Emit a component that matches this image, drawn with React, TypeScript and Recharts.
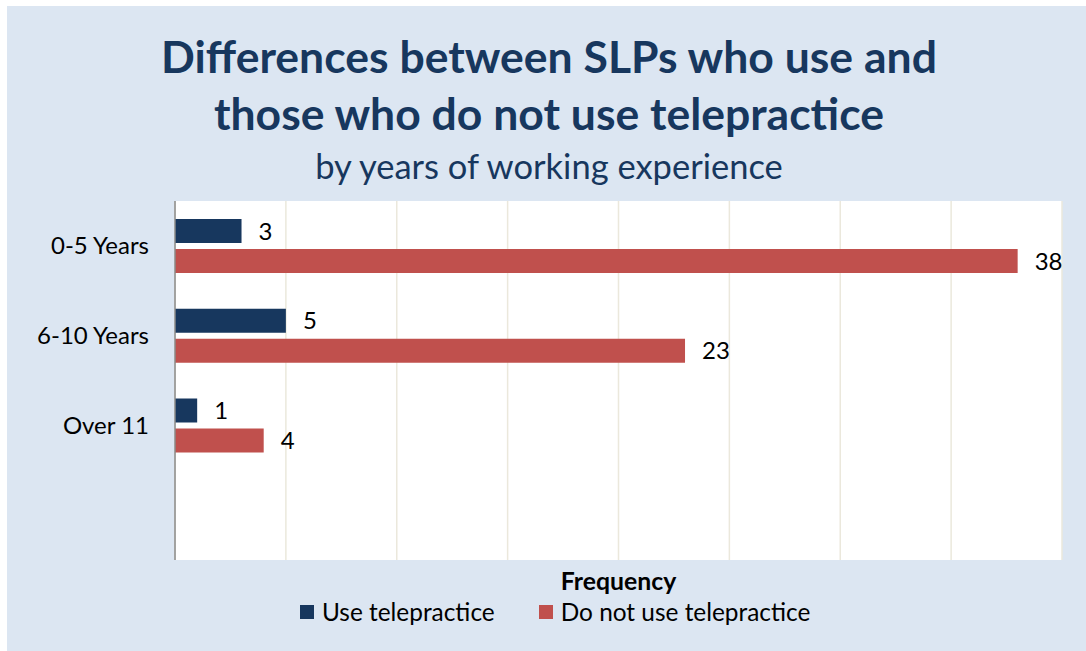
import React from 'react'
import { BarChart, Bar, XAxis, YAxis, CartesianGrid, LabelList, Legend } from 'recharts'

// Chart data
const categories = ['0-5 Years', '6-10 Years', 'Over 11', '']
const useTelepractice = [3, 5, 1, null]
const doNotUseTelepractice = [38, 23, 4, null]
const frequencyTicks = [0, 5, 10, 15, 20, 25, 30, 35, 40]

const seriesNames = ['Use telepractice', 'Do not use telepractice']
const seriesColors = ['#17375e', '#c0504d']

const data = categories.map((category, i) => ({
  category,
  use: useTelepractice[i],
  notUse: doNotUseTelepractice[i],
}))

const FONT = 'Lato, "Noto Sans", sans-serif'
const TITLE_COLOR = '#17375e'

function LegendContent() {
  return (
    <div style={{ display: 'flex', alignItems: 'center', fontFamily: FONT, fontSize: 24.4, color: '#000' }}>
      {seriesNames.map((name, i) => (
        <div key={name} style={{ display: 'flex', alignItems: 'center', marginRight: i === 0 ? 44 : 0 }}>
          <span style={{ display: 'inline-block', width: 14, height: 14, background: seriesColors[i], marginRight: 8 }} />
          <span>{name}</span>
        </div>
      ))}
    </div>
  )
}

const hideNull = (v: any) => (v == null ? '' : v)

export default function App() {
  return (
    <div style={{ position: 'absolute', left: 0, top: 0, width: 1086, height: 651, background: '#fff', overflow: 'hidden' }}>
      <div style={{ position: 'absolute', left: 7, top: 6, width: 1079, height: 645, background: '#dce6f2' }}>
        <BarChart
          width={1079}
          height={645}
          data={data}
          layout="vertical"
          margin={{ top: 195, right: 24, left: 0, bottom: 61 }}
          barSize={24}
          barGap={6}
        >
          <CartesianGrid horizontal={false} fill="#ffffff" stroke="#ebe8dc" strokeWidth={1.5} />
          <XAxis
            type="number"
            domain={[0, 40]}
            ticks={frequencyTicks}
            tick={() => <g />}
            tickLine={false}
            axisLine={false}
            height={30}
            label={{ value: 'Frequency', position: 'insideBottom', offset: 0, fill: '#000', fontSize: 24.8, fontWeight: 700, fontFamily: FONT }}
          />
          <YAxis
            type="category"
            dataKey="category"
            width={168}
            tickLine={false}
            tickSize={0}
            tickMargin={26}
            axisLine={{ stroke: '#8a8a8a', strokeWidth: 1.5 }}
            tick={{ fill: '#000', fontSize: 24, fontFamily: FONT }}
          />
          <Legend
            layout="horizontal"
            verticalAlign="middle"
            align="center"
            wrapperStyle={{ top: 591, left: 293, width: 600, height: 28 }}
            content={<LegendContent />}
          />
          <Bar dataKey="use" name={seriesNames[0]} fill={seriesColors[0]} isAnimationActive={false}>
            <LabelList dataKey="use" position="right" offset={17} formatter={hideNull} fill="#000" fontSize={24} fontFamily={FONT} />
          </Bar>
          <Bar dataKey="notUse" name={seriesNames[1]} fill={seriesColors[1]} isAnimationActive={false}>
            <LabelList dataKey="notUse" position="right" offset={17} formatter={hideNull} fill="#000" fontSize={24} fontFamily={FONT} />
          </Bar>
        </BarChart>
      </div>
      {/* Title block */}
      <svg width={1086} height={200} style={{ position: 'absolute', left: 0, top: 0, pointerEvents: 'none' }}>
        <text x={549} y={73} textAnchor="middle" fill={TITLE_COLOR} fontFamily={FONT} fontWeight={700} fontSize={44.5}>
          Differences between SLPs who use and
        </text>
        <text x={549} y={130} textAnchor="middle" fill={TITLE_COLOR} fontFamily={FONT} fontWeight={700} fontSize={44.5}>
          those who do not use telepractice
        </text>
        <text x={549} y={179} textAnchor="middle" fill={TITLE_COLOR} fontFamily={FONT} fontSize={34.5}>
          by years of working experience
        </text>
      </svg>
    </div>
  )
}
